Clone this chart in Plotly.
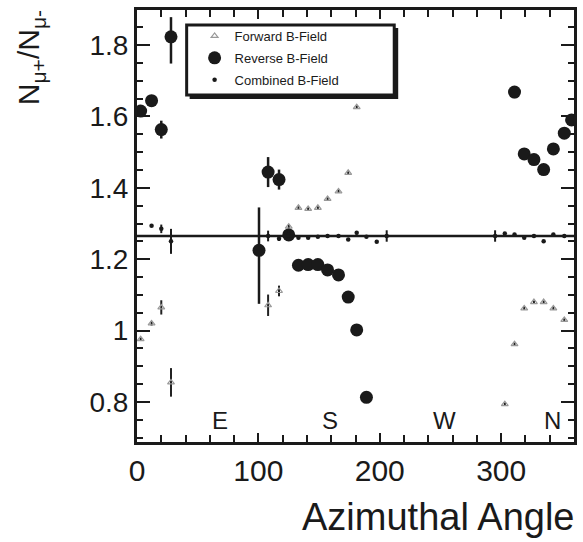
import plotly.graph_objects as go

# Muon charge ratio vs azimuthal angle (degrees)
fwd_angle = [3, 12, 20, 28, 108, 117, 125, 133, 141, 149, 157, 166, 174, 181,
             303, 311, 319, 327, 335, 343, 352]
fwd_ratio = [0.976, 1.020, 1.065, 0.855, 1.071, 1.111, 1.291, 1.344, 1.341, 1.344,
             1.369, 1.390, 1.442, 1.626, 0.794, 0.962, 1.062, 1.080, 1.080, 1.062, 1.030]
fwd_err = [0.005, 0.006, 0.02, 0.04, 0.03, 0.015, 0.005, 0.004, 0.004, 0.004,
           0.004, 0.004, 0.004, 0.004, 0.004, 0.004, 0.004, 0.004, 0.004, 0.004, 0.004]

rev_angle = [3, 12, 20, 28, 100.5, 108, 117, 125, 133, 141, 149, 157, 166, 174,
             181, 189, 311, 319, 327, 335, 343, 352, 358]
rev_ratio = [1.615, 1.644, 1.563, 1.823, 1.225, 1.444, 1.423, 1.268, 1.183, 1.185,
             1.185, 1.170, 1.156, 1.094, 1.002, 0.813, 1.668, 1.495, 1.479, 1.451,
             1.509, 1.553, 1.590]
rev_err_plus = [0.01, 0.012, 0.025, 0.055, 0.12, 0.042, 0.028, 0.01, 0.005, 0.005,
                0.005, 0.005, 0.005, 0.005, 0.005, 0.005, 0.017, 0.005, 0.005, 0.005,
                0.005, 0.005, 0.01]
rev_err_minus = [0.01, 0.012, 0.025, 0.075, 0.15, 0.042, 0.028, 0.01, 0.005, 0.005,
                 0.005, 0.005, 0.005, 0.005, 0.005, 0.005, 0.017, 0.005, 0.005, 0.005,
                 0.005, 0.005, 0.01]

comb_angle = [12, 20, 28, 108, 117, 125, 133, 141, 149, 157, 166, 174, 181, 189,
              197.5, 205.7, 295, 303, 311, 319, 327, 335, 343, 352]
comb_ratio = [1.294, 1.285, 1.250, 1.265, 1.257, 1.269, 1.260, 1.260, 1.263, 1.265,
              1.265, 1.255, 1.274, 1.263, 1.249, 1.265, 1.265, 1.272, 1.269, 1.260,
              1.265, 1.250, 1.269, 1.265]
comb_err = [0.004, 0.012, 0.035, 0.015, 0.006, 0.012, 0.003, 0.003, 0.003, 0.003,
            0.003, 0.003, 0.005, 0.003, 0.003, 0.016, 0.016, 0.003, 0.003, 0.003,
            0.003, 0.003, 0.003, 0.003]

ref_level = 1.265

compass_labels = ["E", "S", "W", "N"]
compass_angle = [68, 159, 253, 342]
compass_level = 0.748

font_family = "Liberation Sans, Arial, sans-serif"
ink = "#1a1a1a"

# plot-area geometry in pixels, used to place the legend frame
PLOT_L, PLOT_T, PLOT_W, PLOT_H = 137, 10, 440, 432


def px_x(p):
    return (p - PLOT_L) / PLOT_W


def px_y(p):
    return 1 - (p - PLOT_T) / PLOT_H


fig = go.Figure()

fig.add_trace(go.Scatter(
    x=fwd_angle, y=fwd_ratio, mode="markers", name="Forward B-Field",
    legendgroup="f",
    marker=dict(symbol="triangle-up-open", size=6, color="#999999",
                line=dict(width=1.2, color="#999999")),
    error_y=dict(type="data", array=fwd_err, color="#222222", thickness=2, width=0),
))
fig.add_trace(go.Scatter(
    x=rev_angle, y=rev_ratio, mode="markers", name="Reverse B-Field",
    legendgroup="r",
    marker=dict(symbol="circle", size=13, color=ink),
    error_y=dict(type="data", array=rev_err_plus, arrayminus=rev_err_minus,
                 symmetric=False, color=ink, thickness=2.5, width=0),
))
fig.add_trace(go.Scatter(
    x=comb_angle, y=comb_ratio, mode="markers", name="Combined B-Field",
    legendgroup="c",
    marker=dict(symbol="circle", size=4.5, color=ink),
    error_y=dict(type="data", array=comb_err, color=ink, thickness=2, width=0),
))

fig.add_hline(y=ref_level, line=dict(color=ink, width=2.5))

for lab, ang in zip(compass_labels, compass_angle):
    fig.add_annotation(x=ang, y=compass_level, text=lab, showarrow=False,
                       font=dict(family=font_family, size=24, color=ink))

fig.add_annotation(xref="paper", yref="paper", x=-0.243, y=1.005,
                   xanchor="center", yanchor="top", textangle=-90, showarrow=False,
                   text="N<sub>μ+</sub>/N<sub>μ-</sub>",
                   font=dict(family=font_family, size=30, color=ink))

fig.add_annotation(xref="paper", yref="paper", x=1.007, y=-0.174,
                   xanchor="right", yanchor="middle", showarrow=False,
                   text="Azimuthal Angle",
                   font=dict(family=font_family, size=38, color=ink))

# legend frame with a drop shadow
fig.add_shape(type="rect", xref="paper", yref="paper",
              x0=px_x(190), x1=px_x(400), y0=px_y(99), y1=px_y(28),
              fillcolor=ink, line=dict(width=0), layer="above")
fig.add_shape(type="rect", xref="paper", yref="paper",
              x0=px_x(187), x1=px_x(396), y0=px_y(95), y1=px_y(25),
              fillcolor="white", line=dict(width=3, color=ink), layer="above")

axis_common = dict(showline=True, linewidth=3, linecolor=ink, mirror="ticks",
                   showgrid=False, zeroline=False, ticks="inside", tickcolor=ink,
                   tickwidth=2)

fig.update_xaxes(range=[0, 360], tick0=0, dtick=100, ticklen=9,
                 minor=dict(dtick=20, tick0=0, ticks="inside", ticklen=7, tickwidth=2,
                            tickcolor=ink),
                 tickfont=dict(family=font_family, size=30, color=ink),
                 **axis_common)
fig.update_yaxes(range=[0.688, 1.898], tick0=0.8, dtick=0.2, ticklen=13,
                 minor=dict(dtick=0.05, tick0=0.8, ticks="inside", ticklen=6, tickwidth=2,
                            tickcolor=ink),
                 tickfont=dict(family=font_family, size=28, color=ink),
                 **axis_common)

fig.update_layout(
    width=583, height=542,
    margin=dict(l=PLOT_L, r=583 - PLOT_L - PLOT_W, t=PLOT_T, b=542 - PLOT_T - PLOT_H),
    paper_bgcolor="white", plot_bgcolor="white",
    showlegend=True,
    legend=dict(x=px_x(195), y=px_y(21), xanchor="left", yanchor="top",
                bgcolor="rgba(0,0,0,0)", borderwidth=0,
                tracegroupgap=2,
                font=dict(family=font_family, size=13, color=ink)),
)

fig.write_html("out.html")
